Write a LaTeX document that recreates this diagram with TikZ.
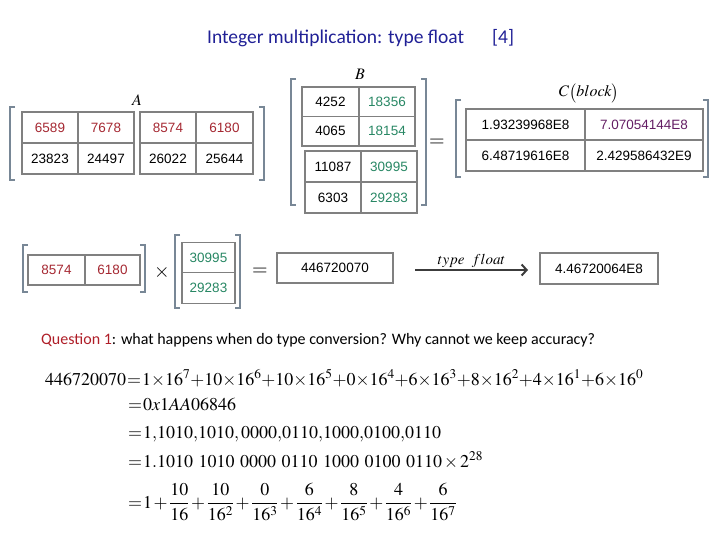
\documentclass[tikz,border=0pt]{standalone}
\usepackage{mathptmx}
\usepackage{fontspec}
\setmainfont{Liberation Serif}
\newfontfamily\numfont{Liberation Sans}
\newfontfamily\calfont{Carlito}
\usetikzlibrary{arrows.meta}
\definecolor{titleblue}{RGB}{32,32,150}
\definecolor{numred}{RGB}{165,40,50}
\definecolor{numgreen}{RGB}{40,135,100}
\definecolor{numpurple}{RGB}{100,30,100}
\definecolor{cellgray}{RGB}{128,128,128}
\definecolor{brgray}{RGB}{120,135,150}
\definecolor{qred}{RGB}{175,30,40}
\definecolor{arrowgray}{RGB}{60,60,60}
\begin{document}
\begin{tikzpicture}[x=1pt,y=-1pt,
  cell/.style={draw=cellgray, line width=1.2pt, inner sep=0pt, minimum height=31pt,
    font=\numfont\fontsize{13.5}{15}\selectfont},
  brk/.style={draw=brgray, line width=1.3pt},
  sym/.style={inner sep=0pt, font=\fontsize{20}{22}\selectfont},
  lab/.style={inner sep=0pt, font=\fontsize{16}{18}\selectfont},
  mathline/.style={inner sep=0pt, anchor=base west, font=\fontsize{18}{20}\selectfont},
  flow/.style={draw=arrowgray, line width=2pt, -{Straight Barb[length=5pt,width=11pt,line width=2pt]}}]
\useasboundingbox (0,0) rectangle (720,540);
% title
\node[anchor=west, inner sep=0pt, text=titleblue, font=\calfont\fontsize{19.5}{22}\selectfont] (title) at (207,38) {Integer multiplication: type float};
\node[anchor=west, inner sep=0pt, text=titleblue, font=\calfont\fontsize{19.5}{22}\selectfont] (ref) at (492,38) {[4]};
% matrix A
\node[lab] (labA) at (137,100) {$A$};
\draw[brk] (15,107) -- (10,107) -- (10,180) -- (15,180);
\draw[brk] (259,107) -- (264,107) -- (264,180) -- (259,180);
\node[cell, minimum width=56pt, text=numred] (a11) at (50,127.5) {6589};
\node[cell, minimum width=56pt, text=numred] (a12) at (106,127.5) {7678};
\node[cell, minimum width=56pt] (a21) at (50,158.5) {23823};
\node[cell, minimum width=56pt] (a22) at (106,158.5) {24497};
\node[cell, minimum width=56pt, text=numred] (a13) at (168,127.5) {8574};
\node[cell, minimum width=57pt, text=numred] (a14) at (224.5,127.5) {6180};
\node[cell, minimum width=56pt] (a23) at (168,158.5) {26022};
\node[cell, minimum width=57pt] (a24) at (224.5,158.5) {25644};
% matrix B
\node[lab] (labB) at (360,74) {$B$};
\draw[brk] (296,79) -- (291,79) -- (291,205) -- (296,205);
\draw[brk] (421,79) -- (426,79) -- (426,205) -- (421,205);
\node[cell, minimum width=57pt, minimum height=29.5pt] (b11) at (330.5,101.75) {4252};
\node[cell, minimum width=56pt, minimum height=29.5pt, text=numgreen] (b12) at (387,101.75) {18356};
\node[cell, minimum width=57pt, minimum height=29.5pt] (b21) at (330.5,131.25) {4065};
\node[cell, minimum width=56pt, minimum height=29.5pt, text=numgreen] (b22) at (387,131.25) {18154};
\node[cell, minimum width=56pt] (b31) at (333,166.5) {11087};
\node[cell, minimum width=56pt, text=numgreen] (b32) at (389,166.5) {30995};
\node[cell, minimum width=56pt] (b41) at (333,197.5) {6303};
\node[cell, minimum width=56pt, text=numgreen] (b42) at (389,197.5) {29283};
\node[sym] (eq1) at (437,143) {$=$};
% matrix C
\node[lab] (labC) at (589,93) {$C\big(block\big)$};
\draw[brk] (461,100) -- (456,100) -- (456,177) -- (461,177);
\draw[brk] (703,100) -- (708,100) -- (708,177) -- (703,177);
\node[cell, minimum width=119pt] (c11) at (525.5,124.5) {1.93239968E8};
\node[cell, minimum width=118pt, text=numpurple] (c12) at (644,124.5) {7.07054144E8};
\node[cell, minimum width=119pt] (c21) at (525.5,155.5) {6.48719616E8};
\node[cell, minimum width=118pt] (c22) at (644,155.5) {2.429586432E9};
% bottom row
\draw[brk] (28,245) -- (23,245) -- (23,292) -- (28,292);
\draw[brk] (140,245) -- (145,245) -- (145,292) -- (140,292);
\node[cell, minimum width=57pt, minimum height=30pt, text=numred] (r1) at (56.5,270) {8574};
\node[cell, minimum width=55pt, minimum height=30pt, text=numred] (r2) at (112.5,270) {6180};
\node[sym] (times) at (162,272) {$\times$};
\draw[brk] (180,235) -- (175,235) -- (175,308) -- (180,308);
\draw[brk] (235,235) -- (240,235) -- (240,308) -- (235,308);
\node[cell, minimum width=53pt, minimum height=30.5pt, text=numgreen] (v1) at (208.5,257.5) {30995};
\node[cell, minimum width=53pt, minimum height=30.5pt, text=numgreen] (v2) at (208.5,288) {29283};
\node[sym] (eq2) at (260,272) {$=$};
\node[cell, minimum width=116pt, minimum height=30pt] (prod) at (335,268) {446720070};
\coordinate (as) at (415,270);
\coordinate (ae) at (528,270);
\draw[flow] (as) -- node[above=1pt, inner sep=0pt, font=\fontsize{15}{17}\selectfont] (tf) {$type\ \ float$} (ae);
\node[cell, minimum width=118pt, minimum height=31pt] (flt) at (599,268.5) {4.46720064E8};
% question
\node[anchor=west, inner sep=0pt, font=\calfont\fontsize{16}{18}\selectfont] (q) at (41,340) {{\color{qred}Question 1}: what happens when do type conversion? Why cannot we keep accuracy?};
% math
\thickmuskip=1mu \medmuskip=0mu
\node[mathline] (m1) at (45,385) {$446720070=1\times16^7+10\times16^6+10\times16^5+0\times16^4+6\times16^3+8\times16^2+4\times16^1+6\times16^0$};
\node[mathline] (m2) at (128,410) {$=0x1AA06846$};
\node[mathline] (m3) at (128,438) {$=1{,}1010{,}1010{,}\,0000{,}0110{,}1000{,}0100{,}0110$};
\node[mathline] (m4) at (128,467) {$\medmuskip=2mu =1.1010\ \mkern1mu1010\ \mkern1mu0000\ \mkern1mu0110\ \mkern1mu1000\ \mkern1mu0100\ \mkern1mu0110\times2^{28}$};
\node[mathline] (m5) at (128,508) {$\displaystyle\medmuskip=1.5mu =1+\frac{10}{16}+\frac{10}{16^2}+\frac{0}{16^3}+\frac{6}{16^4}+\frac{8}{16^5}+\frac{4}{16^6}+\frac{6}{16^7}$};
\end{tikzpicture}
\end{document}
